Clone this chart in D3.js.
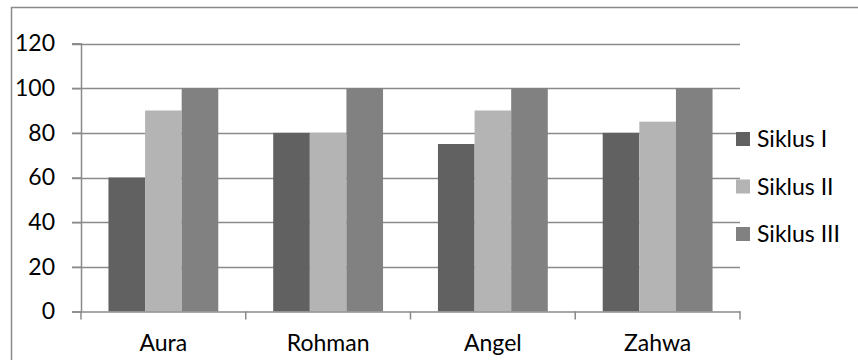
<!DOCTYPE html>
<html>
<head>
<meta charset="utf-8">
<script src="https://cdn.jsdelivr.net/npm/d3@7"></script>
<style>
  html, body { margin: 0; padding: 0; background: #fff; }
  svg { display: block; }
  text { font-family: Lato, "Open Sans", sans-serif; fill: #000; }
</style>
</head>
<body>
<svg id="chart" width="858" height="360"></svg>
<script>
const categories = ["Aura", "Rohman", "Angel", "Zahwa"];
const seriesNames = ["Siklus I", "Siklus II", "Siklus III"];
const siklusI = [60, 80, 75, 80];
const siklusII = [90, 80, 90, 85];
const siklusIII = [100, 100, 100, 100];
const yTicks = [0, 20, 40, 60, 80, 100, 120];
const colors = ["#616161", "#b4b4b4", "#818181"];

const seriesValues = [siklusI, siklusII, siklusIII];
const svg = d3.select("#chart");
const fs = 23;

// outer border
svg.append("rect")
  .attr("x", 11.5).attr("y", 7.5)
  .attr("width", 900).attr("height", 400)
  .attr("fill", "none").attr("stroke", "#8a8a8a").attr("stroke-width", 1.5);

const plot = { left: 81, right: 740, top: 43.5, bottom: 311.5 };

const y = d3.scaleLinear().domain([0, 120]).range([plot.bottom, plot.top]);
const x = d3.scaleBand().domain(categories).range([plot.left, plot.right]).padding(0);
const bw = x.bandwidth();
const xi = d3.scaleBand().domain(seriesNames).range([bw / 6, bw * 5 / 6]).padding(0);

const gridColor = "#8a8a8a";

// gridlines
svg.append("g").selectAll("line").data(yTicks.filter(d => d > 0)).join("line")
  .attr("x1", plot.left - 9).attr("x2", plot.right)
  .attr("y1", d => Math.round(y(d)) + 0.5).attr("y2", d => Math.round(y(d)) + 0.5)
  .attr("stroke", gridColor).attr("stroke-width", 1.5);

// bars
const groups = svg.append("g").selectAll("g").data(categories).join("g")
  .attr("transform", d => `translate(${x(d)},0)`);
groups.selectAll("rect")
  .data((c, i) => seriesNames.map((s, j) => ({ s, j, v: seriesValues[j][i] })))
  .join("rect")
  .attr("x", d => xi(d.s))
  .attr("width", xi.bandwidth())
  .attr("y", d => y(d.v))
  .attr("height", d => y(0) - y(d.v))
  .attr("fill", d => colors[d.j]);

// y axis
const yAxis = d3.axisLeft(y).tickValues(yTicks).tickSize(9).tickPadding(17).tickFormat(d3.format("d"));
const gy = svg.append("g").attr("transform", `translate(${plot.left},0)`).call(yAxis);
gy.select(".domain").attr("stroke", gridColor).attr("stroke-width", 1.5);
gy.selectAll(".tick line").attr("stroke", gridColor).attr("stroke-width", 1.5);
gy.selectAll("text").style("font-size", fs + "px").style("font-family", "Lato, sans-serif").attr("fill", "#000");

// x axis
const xAxis = d3.axisBottom(x).tickSize(0).tickPadding(23);
const gx = svg.append("g").attr("transform", `translate(0,${plot.bottom})`).call(xAxis);
gx.select(".domain").attr("stroke", gridColor).attr("stroke-width", 1.5);
gx.selectAll("text").style("font-size", fs + "px").style("font-family", "Lato, sans-serif").attr("fill", "#000");
// category boundary ticks
const bounds = categories.map(c => x(c)).concat([plot.right]);
svg.append("g").selectAll("line").data(bounds).join("line")
  .attr("x1", d => d).attr("x2", d => d)
  .attr("y1", plot.bottom).attr("y2", plot.bottom + 8)
  .attr("stroke", gridColor).attr("stroke-width", 1.5);

// legend
const legendY = [139, 186.5, 234];
const lg = svg.append("g").selectAll("g").data(seriesNames).join("g")
  .attr("transform", (d, i) => `translate(736,${legendY[i]})`);
lg.append("rect").attr("x", 0).attr("y", -7).attr("width", 14).attr("height", 14)
  .attr("fill", (d, i) => colors[i]);
lg.append("text").attr("x", 21).attr("y", 0).attr("dy", "0.35em")
  .style("font-size", fs + "px").text(d => d);
</script>
</body>
</html>
